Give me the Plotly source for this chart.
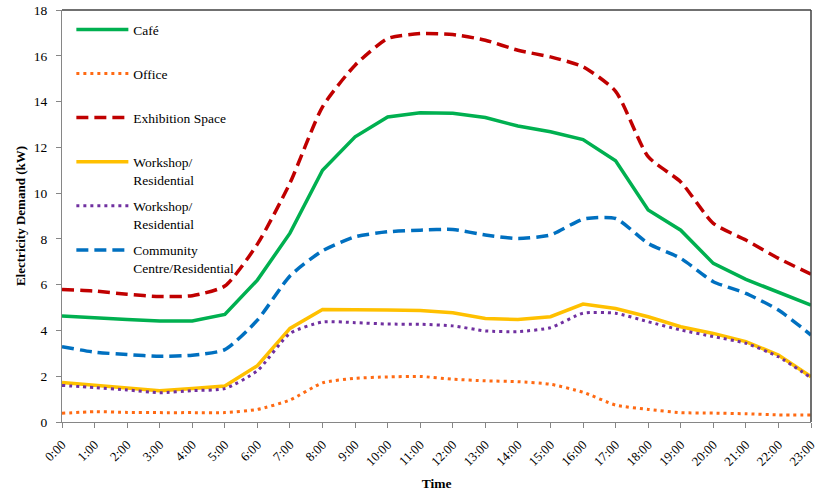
import plotly.graph_objects as go

hours = [f"{h}:00" for h in range(24)]

cafe = [4.63, 4.57, 4.48, 4.41, 4.41, 4.70, 6.20, 8.25, 11.00, 12.46, 13.33, 13.51, 13.49, 13.30,
        12.93, 12.68, 12.34, 11.41, 9.26, 8.38, 6.93, 6.23, 5.69, 5.11]
office = [0.38, 0.45, 0.42, 0.41, 0.41, 0.41, 0.55, 0.96, 1.71, 1.91, 1.97, 1.99, 1.87, 1.80,
          1.76, 1.65, 1.30, 0.74, 0.55, 0.41, 0.39, 0.36, 0.31, 0.31]
exhibition = [5.79, 5.72, 5.58, 5.48, 5.52, 5.94, 7.77, 10.44, 13.77, 15.59, 16.75, 16.97, 16.93, 16.68,
              16.24, 15.95, 15.52, 14.45, 11.59, 10.49, 8.68, 7.95, 7.15, 6.46]
workshop1 = [1.73, 1.60, 1.47, 1.37, 1.46, 1.57, 2.46, 4.09, 4.92, 4.92, 4.89, 4.87, 4.77, 4.52,
             4.48, 4.60, 5.15, 4.96, 4.60, 4.16, 3.87, 3.51, 2.93, 1.98]
workshop2 = [1.60, 1.50, 1.40, 1.28, 1.37, 1.46, 2.24, 3.87, 4.37, 4.34, 4.28, 4.27, 4.20, 3.98,
             3.95, 4.12, 4.75, 4.75, 4.38, 4.02, 3.73, 3.44, 2.85, 1.93]
community = [3.29, 3.05, 2.95, 2.87, 2.92, 3.16, 4.45, 6.38, 7.48, 8.09, 8.31, 8.38, 8.41, 8.17,
             8.02, 8.17, 8.86, 8.89, 7.80, 7.15, 6.13, 5.62, 4.89, 3.80]

series = [
    ("Café<br> ", cafe, "#00B050", "solid", 3.5, "linear"),
    ("Office<br> ", office, "#FF6A13", "3px,4px", 3, "spline"),
    ("Exhibition Space<br> ", exhibition, "#C00000", "12px,6px", 3.5, "spline"),
    ("Workshop/<br>Residential", workshop1, "#FFC000", "solid", 3.5, "linear"),
    ("Workshop/<br>Residential", workshop2, "#7030A0", "3px,4px", 3, "spline"),
    ("Community<br>Centre/Residential", community, "#0070C0", "12px,6px", 3.5, "spline"),
]

fig = go.Figure()
for i, (name, vals, color, dash, w, shape) in enumerate(series):
    fig.add_trace(go.Scatter(
        x=list(range(24)), y=vals, mode="lines", name=name,
        legendgroup=f"g{i}",
        line=dict(color=color, dash=dash, width=w, shape=shape,
                  smoothing=0.6 if shape == "spline" else None),
    ))

font_family = "Liberation Serif, Times New Roman, serif"

fig.update_layout(
    width=817, height=491,
    margin=dict(l=62, r=6, t=10, b=69),
    paper_bgcolor="white", plot_bgcolor="white",
    font=dict(family=font_family, size=13, color="#000000"),
    showlegend=True,
    legend=dict(
        x=0.0125, y=0.99, xanchor="left", yanchor="top",
        bgcolor="rgba(0,0,0,0)", font=dict(family=font_family, size=13.5, color="#000"),
        tracegroupgap=6, valign="top", itemwidth=52,
    ),
    xaxis=dict(
        range=[0, 23], tickmode="array", tickvals=list(range(24)), ticktext=hours,
        tickangle=-45, showgrid=False, zeroline=False, automargin=False,
        ticklabeloverflow="allow",
        showline=True, linecolor="#868686", linewidth=1,
        ticks="outside", ticklen=5, tickcolor="#868686", ticklabelstandoff=4,
        tickfont=dict(family=font_family, size=13),
        title=dict(text="<b>Time</b>", font=dict(family=font_family, size=13.5), standoff=11),
    ),
    yaxis=dict(
        range=[0, 18], dtick=2, showgrid=False, zeroline=False, automargin=False,
        ticklabeloverflow="allow",
        showline=True, linecolor="#868686", linewidth=1,
        ticks="outside", ticklen=5, tickcolor="#868686", ticklabelstandoff=6,
        tickfont=dict(family=font_family, size=13.5),
        title=dict(text="<b>Electricity Demand (kW)</b>", font=dict(family=font_family, size=13), standoff=5),
    ),
    shapes=[
        dict(type="line", xref="paper", yref="paper", x0=0, x1=1, y0=1, y1=1,
             line=dict(color="#404040", width=1.5)),
        dict(type="line", xref="paper", yref="paper", x0=1, x1=1, y0=0, y1=1,
             line=dict(color="#404040", width=1.5)),
    ],
)

fig.write_html("out.html", config={"displayModeBar": False},
               post_script="document.body.style.margin='0px';")
